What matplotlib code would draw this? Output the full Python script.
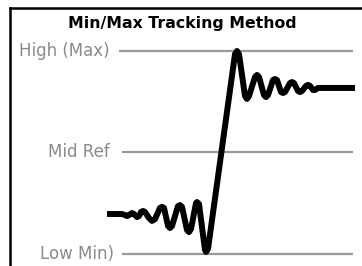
import matplotlib.pyplot as plt

# reference levels (signal units: Low = 0, High = 1)
level_names = ["High (Max)", "Mid Ref", "Low Min)"]
level_values = [1.0, 0.5, 0.0]

# signal trace (time in arbitrary units)
time = [107, 122, 125, 127, 129, 132, 134, 137, 139, 141,
        143, 145, 149, 152, 155, 160, 162, 164, 168, 170,
        172, 178, 180, 182, 187, 189, 191, 196, 197, 199,
        205, 206, 208, 235, 237, 239, 245, 247, 249, 255,
        257, 259, 264, 266, 268, 273, 275, 277, 281, 283,
        285, 290, 292, 294, 298, 300, 302, 306, 308, 310,
        313, 315, 318, 322, 355]
signal = [0.197, 0.197, 0.192, 0.187, 0.192, 0.202, 0.197, 0.182, 0.187, 0.207,
          0.212, 0.207, 0.177, 0.163, 0.172, 0.227, 0.232, 0.227, 0.138, 0.128,
          0.138, 0.236, 0.241, 0.232, 0.118, 0.108, 0.123, 0.251, 0.256, 0.246,
          0.020, 0.010, 0.025, 0.985, 1.000, 0.985, 0.778, 0.764, 0.778, 0.872,
          0.882, 0.872, 0.783, 0.773, 0.783, 0.857, 0.862, 0.857, 0.798, 0.793,
          0.798, 0.842, 0.847, 0.842, 0.803, 0.798, 0.803, 0.828, 0.833, 0.828,
          0.808, 0.808, 0.818, 0.818, 0.818]

title = "Min/Max Tracking Method"


def main():
    fig = plt.figure(figsize=(3.62, 2.66), dpi=100)
    ax = fig.add_axes([0, 0, 1, 1])
    ax.set_xlim(0, 362)
    ax.set_ylim(-0.0591, 1.2512)
    ax.axis("off")

    label_right = [110, 110, 114]
    line_start = [119, 122, 122]
    for name, value, xr, x0 in zip(level_names, level_values, label_right, line_start):
        ax.hlines(value, x0, 353, color="#9a9a9a", linewidth=1.6)
        ax.text(xr, value, name, ha="right", va="center", color="#8a8a8a",
                fontsize=12, family="DejaVu Sans")

    ax.plot(time, signal, color="black", linewidth=4.3,
            solid_joinstyle="round", solid_capstyle="butt")

    ax.text(182.5, 1.113, title, ha="center", va="baseline", color="black",
            fontsize=11.3, fontweight="bold", family="DejaVu Sans")

    # partial frame: left and top edges
    fig.add_artist(plt.Line2D([10 / 362, 10 / 362], [0, 1 - 8 / 266],
                              color="black", linewidth=1.8))
    fig.add_artist(plt.Line2D([10 / 362, 1], [1 - 8 / 266, 1 - 8 / 266],
                              color="black", linewidth=1.8))

    fig.savefig("out.png", dpi=100)


if __name__ == "__main__":
    main()
